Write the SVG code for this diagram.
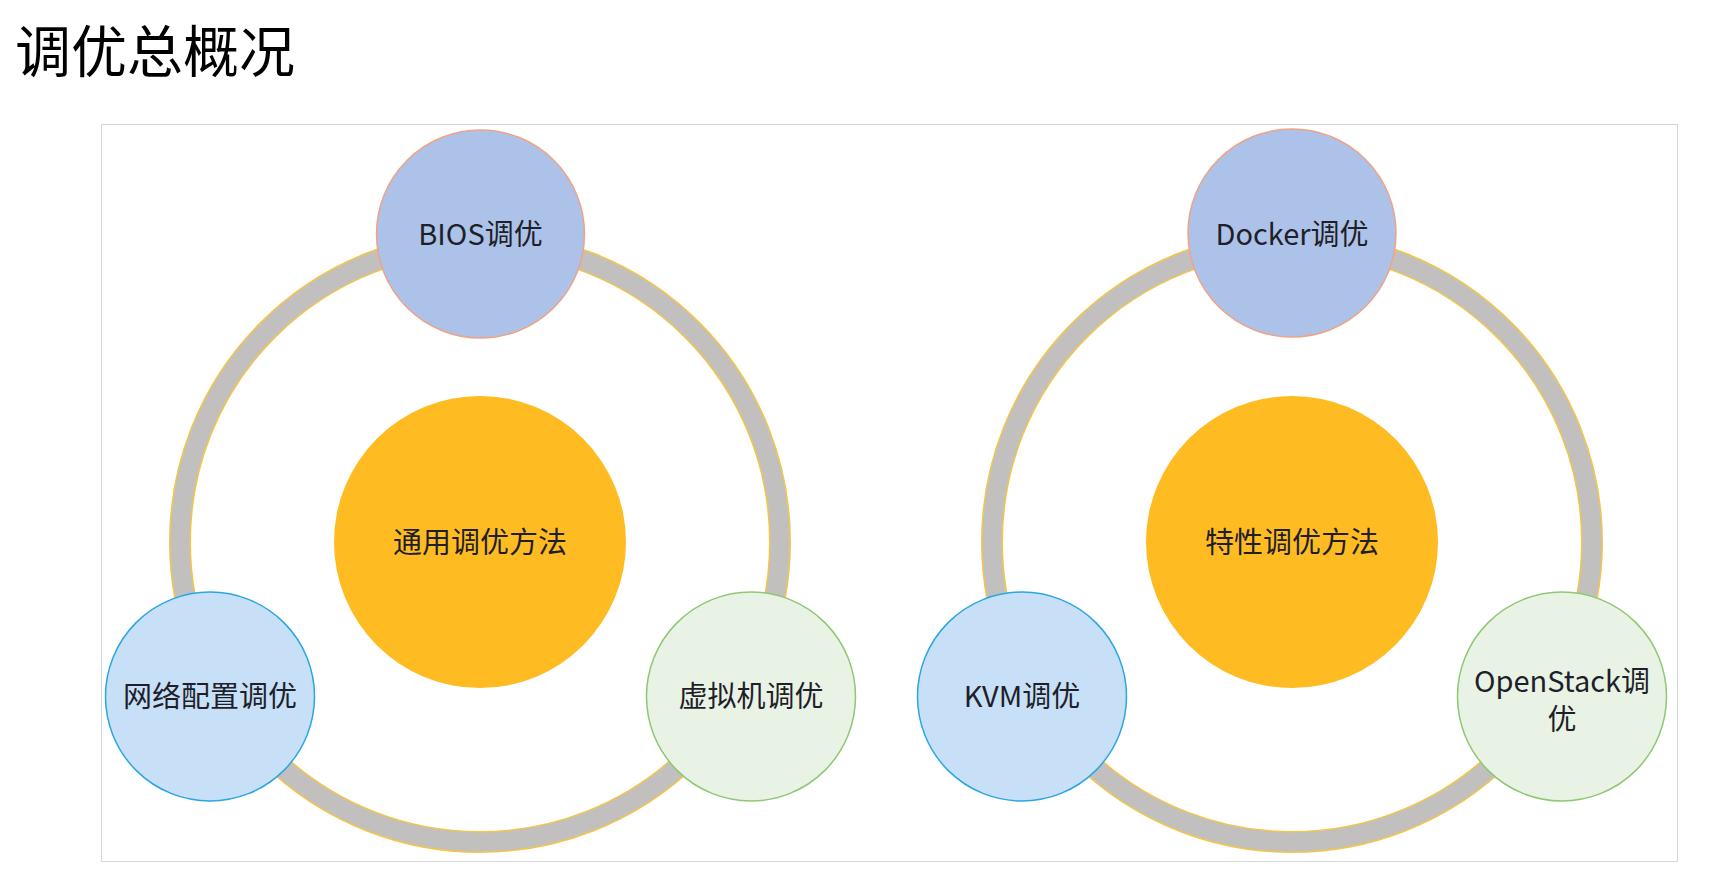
<svg xmlns="http://www.w3.org/2000/svg" width="1711" height="884" viewBox="0 0 1711 884">
  <style>
    .t { font-family: "Noto Sans CJK SC", "Noto Sans", sans-serif; fill: #1f1f2a; font-size: 29px; text-anchor: middle; }
    .title { font-family: "Noto Sans CJK SC", "Noto Sans", sans-serif; fill: #000; font-size: 56px; }
    .ringEdge { fill: none; stroke: #f3c64a; stroke-width: 22; }
    .ring { fill: none; stroke: #c2c0bf; stroke-width: 19; }
    .core { fill: #ffbb22; }
    .top { fill: #adc2e8; stroke: #f0a285; stroke-width: 1.5; }
    .left { fill: #c7e0f8; stroke: #2aa6e2; stroke-width: 1.5; }
    .right { fill: #e9f3e5; stroke: #8fc774; stroke-width: 1.5; }
  </style>
  <rect x="0" y="0" width="1711" height="884" fill="#ffffff"/>
  <text class="title" x="15" y="72">调优总概况</text>
  <rect x="101.5" y="124.5" width="1576" height="737" fill="#ffffff" stroke="#d6d6d6" stroke-width="1"/>

  <g id="connectors">
    <circle class="ringEdge" cx="480" cy="542" r="300"/>
    <circle class="ring" cx="480" cy="542" r="300"/>
    <circle class="ringEdge" cx="1292" cy="542" r="300"/>
    <circle class="ring" cx="1292" cy="542" r="300"/>
  </g>

  <g id="node-general">
    <circle class="core" cx="480" cy="542" r="146"/>
    <text class="t" x="480" y="553">通用调优方法</text>
  </g>
  <g id="node-bios">
    <circle class="top" cx="480.5" cy="234" r="104"/>
    <text class="t" x="480.5" y="245">BIOS调优</text>
  </g>
  <g id="node-network">
    <circle class="left" cx="210" cy="696.5" r="104.5"/>
    <text class="t" x="210" y="707">网络配置调优</text>
  </g>
  <g id="node-vm">
    <circle class="right" cx="751" cy="696.5" r="104.5"/>
    <text class="t" x="751" y="707">虚拟机调优</text>
  </g>

  <g id="node-special">
    <circle class="core" cx="1292" cy="542" r="146"/>
    <text class="t" x="1292" y="553">特性调优方法</text>
  </g>
  <g id="node-docker">
    <circle class="top" cx="1292" cy="233" r="104"/>
    <text class="t" x="1292" y="245">Docker调优</text>
  </g>
  <g id="node-kvm">
    <circle class="left" cx="1022" cy="696.5" r="104.5"/>
    <text class="t" x="1022" y="707">KVM调优</text>
  </g>
  <g id="node-openstack">
    <circle class="right" cx="1562" cy="696.5" r="104.5"/>
    <text class="t" x="1562" y="692">OpenStack调</text>
    <text class="t" x="1562" y="730">优</text>
  </g>
</svg>
